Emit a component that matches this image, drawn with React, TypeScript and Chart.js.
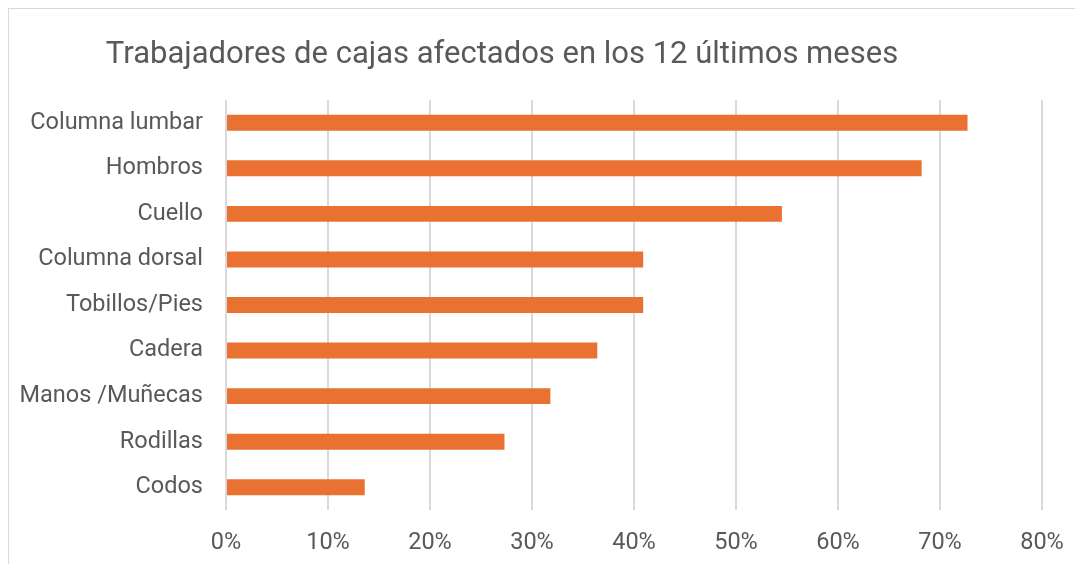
import React, { useEffect, useRef } from "react";
import { Chart, registerables } from "chart.js";

Chart.register(...registerables);

const titleText = "Trabajadores de cajas afectados en los 12 últimos meses";
const categories = [
  "Columna lumbar",
  "Hombros",
  "Cuello",
  "Columna dorsal",
  "Tobillos/Pies",
  "Cadera",
  "Manos /Muñecas",
  "Rodillas",
  "Codos",
];
const values = [72.7, 68.2, 54.5, 40.9, 40.9, 36.4, 31.8, 27.3, 13.6];
const xTicks = [0, 10, 20, 30, 40, 50, 60, 70, 80];

const FONT = "Roboto, 'Noto Sans', sans-serif";
const TEXT = "#595959";

export default function App() {
  const ref = useRef<HTMLCanvasElement | null>(null);

  useEffect(() => {
    if (!ref.current) return;
    const titlePlugin = {
      id: "customTitle",
      afterDraw(chart: any) {
        const ctx = chart.ctx;
        ctx.save();
        ctx.font = `31px ${FONT}`;
        ctx.fillStyle = TEXT;
        ctx.textAlign = "center";
        ctx.textBaseline = "middle";
        ctx.fillText(titleText, 493, 46);
        ctx.restore();
      },
    };
    const chart = new Chart(ref.current, {
      type: "bar",
      data: {
        labels: categories,
        datasets: [
          {
            data: values,
            backgroundColor: "#E97132",
            borderWidth: 0,
            barPercentage: 0.7,
            categoryPercentage: 0.5,
          },
        ],
      },
      options: {
        indexAxis: "y",
        animation: false,
        responsive: false,
        maintainAspectRatio: false,
        layout: { padding: { top: 91, left: 0, right: 41, bottom: 0 } },
        plugins: {
          legend: { display: false },
          title: { display: false },
          tooltip: { enabled: false },
        },
        scales: {
          x: {
            min: 0,
            max: 80,
            afterBuildTicks(scale: any) {
              scale.ticks = xTicks.map((v) => ({ value: v }));
            },
            afterFit(scale: any) {
              scale.height = 54;
            },
            ticks: {
              callback: (v: any) => `${v}%`,
              color: TEXT,
              font: { family: FONT, size: 23.5 },
              padding: 19,
              maxRotation: 0,
            },
            grid: { color: "#d9d9d9", lineWidth: 2, drawTicks: false },
            border: { display: false },
          },
          y: {
            afterFit(scale: any) {
              scale.width = 217;
            },
            ticks: {
              color: TEXT,
              font: { family: FONT, size: 23.5 },
              padding: 23,
            },
            grid: { display: false, drawTicks: false },
            border: { display: false },
          },
        },
      },
      plugins: [titlePlugin],
    });
    return () => chart.destroy();
  }, []);

  return (
    <div
      style={{
        width: 1075,
        height: 556,
        borderTop: "1px solid #d9d9d9",
        borderLeft: "1px solid #d9d9d9",
        boxSizing: "border-box",
        background: "#fff",
      }}
    >
      <canvas ref={ref} width={1074} height={555} style={{ display: "block" }} />
    </div>
  );
}
